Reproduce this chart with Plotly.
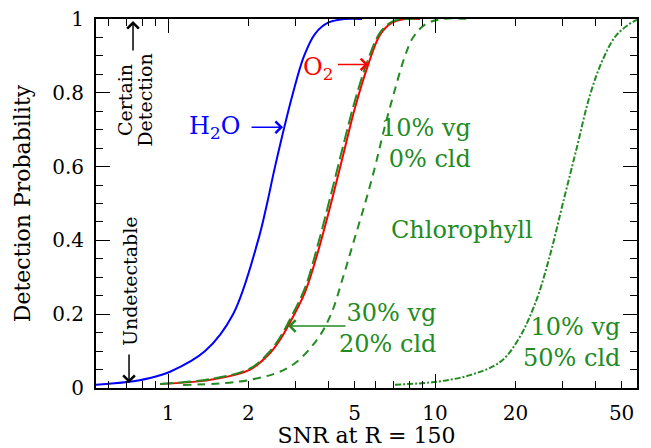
import math
import plotly.graph_objects as go

# ---- data ----
h2o_snr = [0.537, 0.702, 0.856, 1.017, 1.376, 1.752, 2.174, 2.349, 2.516, 2.939, 3.232, 3.553, 3.975, 4.601, 5.33]
h2o_prob = [0.009, 0.016, 0.027, 0.044, 0.10, 0.20, 0.40, 0.50, 0.60, 0.80, 0.90, 0.96, 0.99, 1.0, 1.0]

o2_snr = [0.933, 1.436, 2.028, 2.410, 2.650, 2.814, 3.260, 3.646, 4.077, 4.523, 5.017, 5.612, 6.223, 6.902, 7.72, 8.786]
o2_prob = [0.011, 0.022, 0.050, 0.095, 0.135, 0.168, 0.26, 0.37, 0.50, 0.63, 0.76, 0.875, 0.957, 0.99, 1.0, 1.0]

veg30_snr = [0.933, 1.436, 2.028, 2.410, 2.650, 2.814, 3.260, 3.646, 4.077, 4.523, 5.017, 5.612, 6.223, 6.902, 7.72, 8.786]
veg30_prob = [0.011, 0.024, 0.053, 0.100, 0.142, 0.176, 0.272, 0.39, 0.525, 0.655, 0.78, 0.89, 0.963, 0.993, 1.0, 1.0]

veg10_snr = [1.138, 2.028, 2.863, 3.606, 4.077, 4.523, 4.972, 5.467, 5.963, 6.442, 7.022, 7.72, 8.272, 9.174, 10.62, 13.52]
veg10_prob = [0.008, 0.022, 0.058, 0.13, 0.20, 0.30, 0.40, 0.50, 0.60, 0.70, 0.80, 0.90, 0.95, 0.985, 1.0, 1.0]

cld50_snr = [7.08, 10.15, 13.52, 17.51, 20.46, 23.89, 26.96, 30.23, 33.94, 38.07, 42.69, 47.92, 55.3, 57.5]
cld50_prob = [0.009, 0.017, 0.035, 0.07, 0.13, 0.235, 0.36, 0.505, 0.65, 0.794, 0.893, 0.957, 0.993, 0.998]

x_tick_vals = [1, 2, 5, 10, 20, 50]
x_tick_text = ["1", "2", "5", "10", "20", "50"]
x_minor_vals = [0.6, 0.7, 0.8, 0.9, 3, 4, 6, 7, 8, 9, 30, 40]
x_decade_vals = [1, 10]
y_tick_vals = [0, 0.2, 0.4, 0.6, 0.8, 1]
x_range = [0.537, 57.1]

FONT = "DejaVu Serif"
GREEN = "#228B22"
xr = [math.log10(x_range[0]), math.log10(x_range[1])]

fig = go.Figure()
fig.add_trace(go.Scatter(x=h2o_snr, y=h2o_prob, mode="lines", line=dict(color="#0000FF", width=2, shape="spline")))
fig.add_trace(go.Scatter(x=o2_snr, y=o2_prob, mode="lines", line=dict(color="#FF0000", width=2, shape="spline")))
fig.add_trace(go.Scatter(x=veg30_snr, y=veg30_prob, mode="lines", line=dict(color=GREEN, width=2, shape="spline", dash="13px,5px")))
fig.add_trace(go.Scatter(x=veg10_snr, y=veg10_prob, mode="lines", line=dict(color=GREEN, width=2, shape="spline", dash="8px,6px")))
fig.add_trace(go.Scatter(x=cld50_snr, y=cld50_prob, mode="lines", line=dict(color=GREEN, width=2, shape="spline", dash="6px,2px,2px,2px")))
# invisible trace carrying the decade tick overlay axis
fig.add_trace(go.Scatter(x=x_decade_vals, y=[None, None], xaxis="x2", mode="lines", hoverinfo="skip"))

ann = []
def text(x, y, s, color, size=24, xanchor="center", angle=0, align="center"):
    ann.append(dict(x=math.log10(x), y=y, text=s, showarrow=False, xanchor=xanchor, yanchor="middle",
                    font=dict(family=FONT, size=size, color=color), textangle=angle, align=align))

def arrow(x, y, ax, ay, color):
    ann.append(dict(x=math.log10(x), y=y, text="", showarrow=True, ax=ax, ay=ay, axref="pixel", ayref="pixel",
                    arrowhead=4, arrowsize=1.5, arrowwidth=1.5, arrowcolor=color, standoff=0))

text(1.893, 0.705, "H<sub>2</sub>O", "#0000FF", xanchor="right")
arrow(2.696, 0.7065, -33, 0, "#0000FF")
text(4.222, 0.866, "O<sub>2</sub>", "#FF0000", xanchor="right")
arrow(5.626, 0.877, -32, 0, "#FF0000")
text(13.88, 0.6626, "10% vg<br>0% cld", GREEN, xanchor="right", align="right")
text(12.62, 0.428, "Chlorophyll", GREEN)
text(10.26, 0.161, "30% vg<br>20% cld", GREEN, xanchor="right", align="right")
arrow(2.814, 0.168, 59, 0, GREEN)
text(50.16, 0.123, "10% vg<br>50% cld", GREEN, xanchor="right", align="right")
text(0.7205, 0.29, "Undetectable", "black", size=19, angle=-90)
arrow(0.714, 0.0136, 0, -30, "black")
text(0.690, 0.7805, "Certain", "black", size=19, angle=-90)
text(0.817, 0.7805, "Detection", "black", size=19, angle=-90)
arrow(0.739, 0.9946, 0, 31, "black")

axis_common = dict(showline=True, linecolor="black", linewidth=2, mirror="ticks", ticks="inside",
                   tickcolor="black", tickwidth=1.2, showgrid=False, zeroline=False, automargin=False)

fig.update_layout(
    width=651, height=448,
    margin=dict(l=96, r=14, t=19, b=60),
    paper_bgcolor="white", plot_bgcolor="white",
    showlegend=False,
    font=dict(family=FONT, color="black", size=20),
    xaxis=dict(type="log", range=xr, tickmode="array", tickvals=x_tick_vals, ticktext=x_tick_text,
               ticklen=7, tickfont=dict(size=20), ticklabelstandoff=6,
               minor=dict(tickmode="array", tickvals=x_minor_vals, ticks="inside", ticklen=7,
                          tickcolor="black", tickwidth=1.2, showgrid=False),
               title=dict(text="SNR at R = 150", font=dict(size=22), standoff=15), **axis_common),
    xaxis2=dict(type="log", range=xr, overlaying="x", anchor="y", side="bottom", tickmode="array",
                tickvals=x_decade_vals, showticklabels=False, ticklen=14, **axis_common),
    yaxis=dict(range=[0, 1], tickmode="array", tickvals=y_tick_vals, ticklen=14,
               tickfont=dict(size=20), ticklabelstandoff=6,
               minor=dict(dtick=0.05, ticks="inside", ticklen=7, tickcolor="black", tickwidth=1.2, showgrid=False),
               title=dict(text="Detection Probability", font=dict(size=22), standoff=15), **axis_common),
    annotations=ann,
)
fig.write_html("out.html")
